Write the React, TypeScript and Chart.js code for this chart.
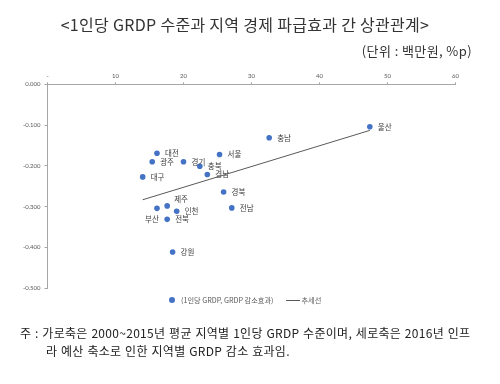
import React, { useEffect, useRef } from "react";
import { Chart, registerables } from "chart.js";

Chart.register(...registerables);

// ---- data ----
const REGIONS = ["울산", "충남", "대전", "광주", "경기", "서울", "충북", "경남", "대구", "경북", "제주", "부산", "인천", "전북", "전남", "강원"];
const GRDP_PER_CAPITA = [47.4, 32.6, 16.1, 15.4, 20.0, 25.3, 22.4, 23.5, 14.0, 25.9, 17.6, 16.1, 19.0, 17.6, 27.1, 18.4];
const GRDP_EFFECT = [-0.104, -0.131, -0.169, -0.19, -0.19, -0.172, -0.201, -0.221, -0.227, -0.264, -0.298, -0.304, -0.311, -0.331, -0.303, -0.411];
const TREND_X = [14.0, 47.4];
const TREND_Y = [-0.283, -0.113];
const SERIES_LABEL = "(1인당 GRDP, GRDP 감소효과)";
const TREND_LABEL = "추세선";
const TITLE = "<1인당 GRDP 수준과 지역 경제 파급효과 간 상관관계>";
const UNIT = "(단위 : 백만원, %p)";
const NOTE_1 = "주 : 가로축은 2000~2015년 평균 지역별 1인당 GRDP 수준이며, 세로축은 2016년 인프";
const NOTE_2 = "라 예산 축소로 인한 지역별 GRDP 감소 효과임.";

// label placement (style only): [dx, dy, align]
const LABEL_POS: Record<string, [number, number, CanvasTextAlign]> = {
  제주: [7, -7, "left"],
  부산: [-12, 11, "left"],
};

const KFONT = '"Noto Sans CJK KR", "Noto Sans", sans-serif';

const labelPlugin = {
  id: "pointLabels",
  afterDatasetsDraw(chart: any) {
    const meta = chart.getDatasetMeta(0);
    const ctx = chart.ctx;
    ctx.save();
    ctx.font = `7.5px ${KFONT}`;
    ctx.fillStyle = "#404040";
    ctx.textBaseline = "middle";
    meta.data.forEach((el: any, i: number) => {
      const name = REGIONS[i];
      const pos = LABEL_POS[name] || [8, 0, "left"];
      ctx.textAlign = pos[2];
      ctx.fillText(name, el.x + pos[0], el.y + pos[1]);
    });
    ctx.restore();
  },
};

export default function App() {
  const ref = useRef<HTMLCanvasElement>(null);
  useEffect(() => {
    if (!ref.current) return;
    const chart = new Chart(ref.current, {
      type: "scatter",
      data: {
        datasets: [
          {
            label: SERIES_LABEL,
            data: GRDP_PER_CAPITA.map((x, i) => ({ x, y: GRDP_EFFECT[i] })),
            backgroundColor: "#4472C4",
            borderColor: "#4472C4",
            pointRadius: 2.8,
            pointBorderWidth: 0,
          },
          {
            label: TREND_LABEL,
            type: "line",
            data: TREND_X.map((x, i) => ({ x, y: TREND_Y[i] })),
            borderColor: "#595959",
            borderWidth: 1,
            pointRadius: 0,
            fill: false,
          } as any,
        ],
      },
      options: {
        responsive: false,
        animation: false,
        devicePixelRatio: 1,
        layout: { padding: { left: 19.5, top: 70.3, right: 44.5, bottom: 95.7 } },
        plugins: { legend: { display: false }, tooltip: { enabled: false }, title: { display: false } },
        scales: {
          x: {
            type: "linear",
            position: "top",
            min: 0,
            max: 60,
            ticks: {
              stepSize: 10,
              color: "#595959",
              font: { size: 6, family: "Lato, sans-serif" },
              padding: 3,
              maxRotation: 0,
              callback: (v: any) => (v === 0 ? "-" : String(v)),
            },
            grid: { display: true, drawOnChartArea: false, drawTicks: true, tickLength: 2, color: "#a6a6a6" },
            border: { display: true, color: "#a6a6a6" },
            afterFit: (s: any) => { s.height = 14; },
          },
          y: {
            type: "linear",
            min: -0.5,
            max: 0,
            ticks: {
              stepSize: 0.1,
              color: "#595959",
              font: { size: 6, family: "Lato, sans-serif" },
              padding: 4,
              callback: (v: any) => Number(v).toFixed(3),
            },
            grid: { display: true, drawOnChartArea: false, drawTicks: true, tickLength: 3, color: "#a6a6a6" },
            border: { display: true, color: "#a6a6a6" },
            afterFit: (s: any) => { s.width = 28; },
          },
        },
      },
      plugins: [labelPlugin],
    });
    return () => chart.destroy();
  }, []);

  return (
    <div style={{ position: "absolute", left: 0, top: 0, width: 500, height: 384, background: "#fff", fontFamily: KFONT, overflow: "hidden" }}>
      <canvas ref={ref} width={500} height={384} style={{ position: "absolute", left: 0, top: 0 }} />
      <div style={{ position: "absolute", top: 14, left: 0, width: 490, textAlign: "center", fontSize: 16, letterSpacing: 0.3, color: "#333", lineHeight: "20px" }}>{TITLE}</div>
      <div style={{ position: "absolute", top: 42, right: 28, fontSize: 13, letterSpacing: 0.4, color: "#333", lineHeight: "17px" }}>{UNIT}</div>
      <div style={{ position: "absolute", top: 295, left: 169, display: "flex", alignItems: "center", fontSize: 7.2, color: "#595959", lineHeight: "10px" }}>
        <span style={{ width: 6, height: 6, borderRadius: 3, background: "#4472C4", display: "inline-block", marginRight: 6 }} />
        <span>{SERIES_LABEL}</span>
        <span style={{ width: 14, height: 1, background: "#595959", display: "inline-block", marginLeft: 13, marginRight: 1 }} />
        <span>{TREND_LABEL}</span>
      </div>
      <div style={{ position: "absolute", top: 324, left: 20, fontSize: 12, letterSpacing: 0.3, wordSpacing: 0.7, color: "#222", lineHeight: "18px", whiteSpace: "pre" }}>
        <div>{NOTE_1}</div>
        <div style={{ paddingLeft: 26 }}>{NOTE_2}</div>
      </div>
    </div>
  );
}
